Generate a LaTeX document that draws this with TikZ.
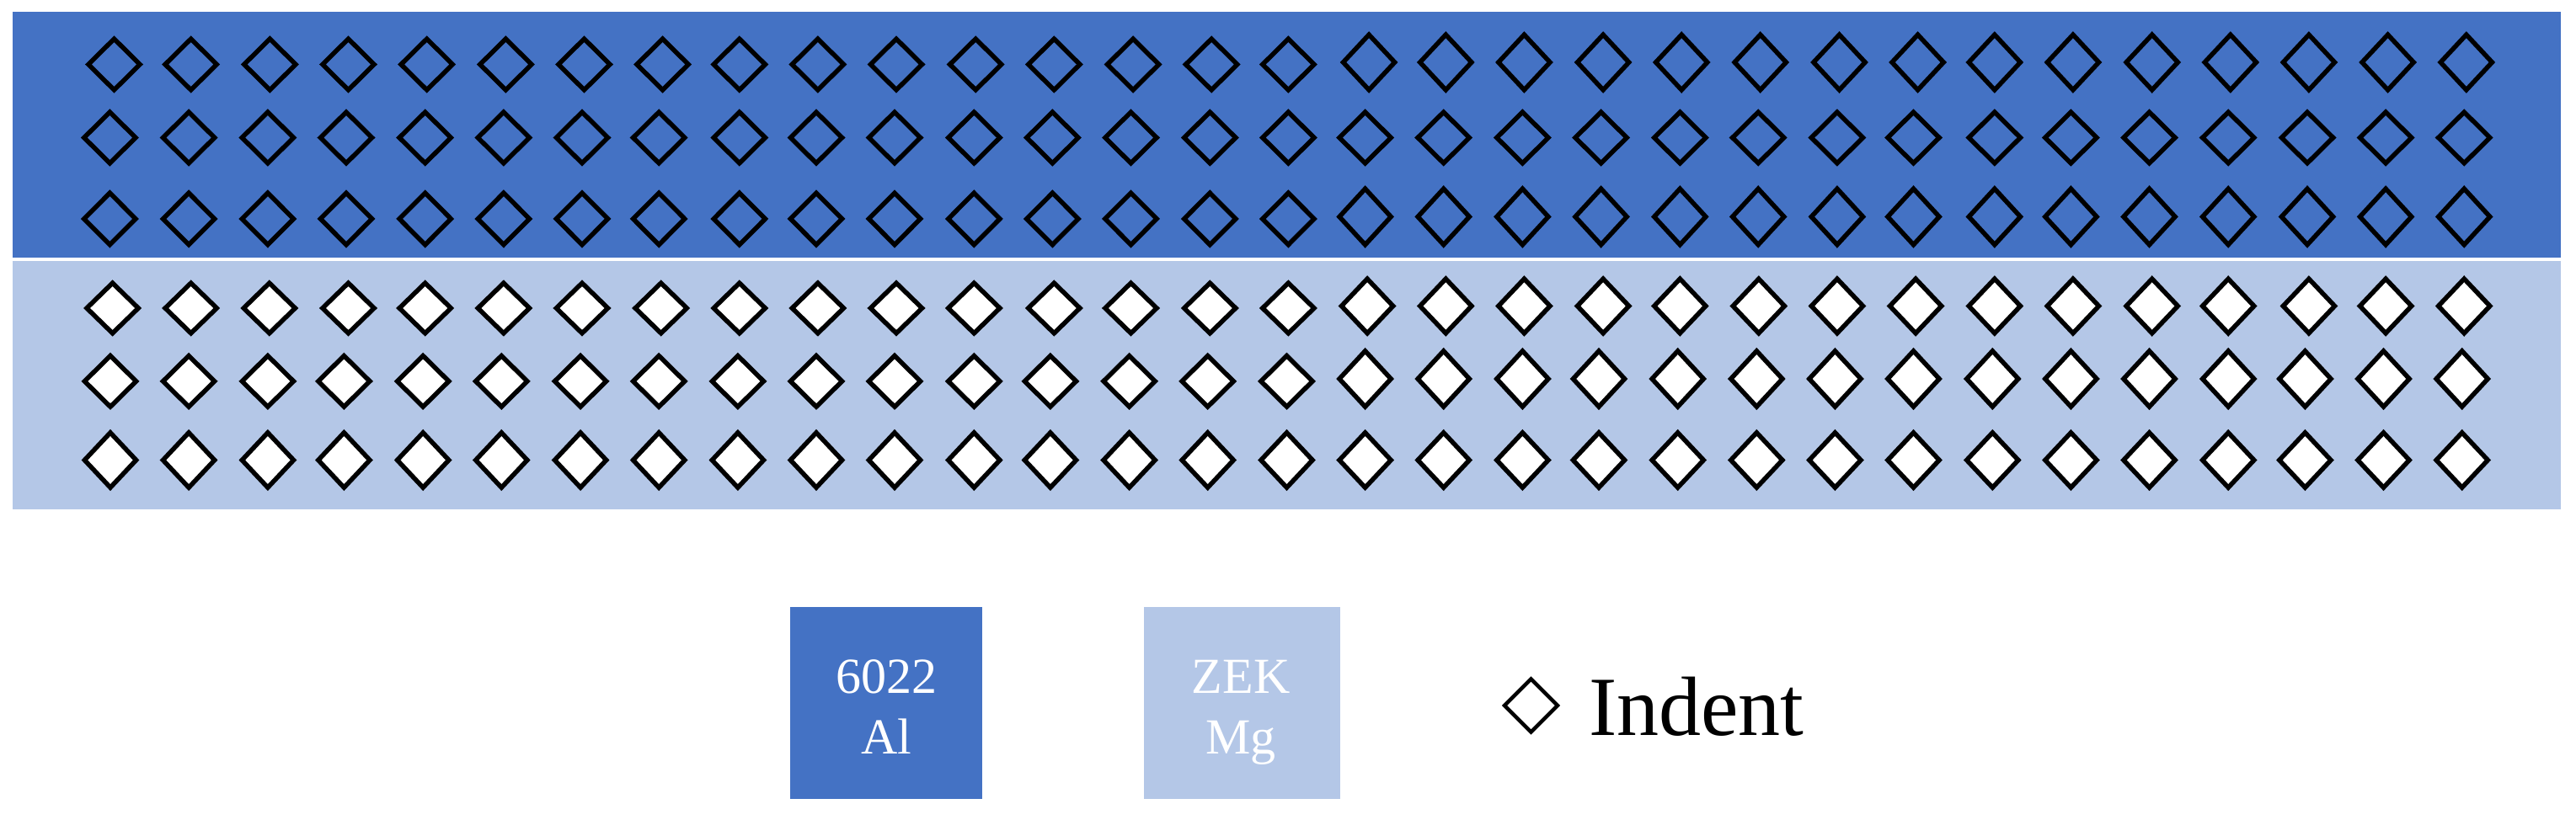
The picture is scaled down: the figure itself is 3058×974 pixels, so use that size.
\documentclass[tikz,border=0pt]{standalone}
\usepackage{fontspec}
\setmainfont{Liberation Serif}
\definecolor{albl}{HTML}{4472C4}
\definecolor{mglb}{HTML}{B4C7E7}
\newcommand\dmd[4]{%
  \pgfmathsetmacro\cyv{(#2+#3)/2}%
  \path[indent/.try, fill=#4] ({#1},{#2+3.9}) -- ({#1+30.6},\cyv) -- ({#1},{#3-3.9}) -- ({#1-30.6},\cyv) -- cycle;%
}
\begin{document}
\begin{tikzpicture}[x=1pt,y=-1pt,
  indent/.style={draw=black, line width=5.5pt, line join=miter},
  legbox/.style={rectangle, draw=none, inner sep=0pt, minimum height=228pt},
  legtxt/.style={inner sep=0pt, text=white, font=\fontsize{60}{72}\selectfont, anchor=base},
  bigtxt/.style={inner sep=0pt, text=black, font=\fontsize{100}{120}\selectfont, anchor=base west}]
\useasboundingbox (0,0) rectangle (3058,974);
% bands
\fill[albl] (15,14) rectangle (3040,306);
\fill[mglb] (15,310) rectangle (3040,605);
% row 1
\foreach \x in {135.5,226.7,320.4,413.5,506.7,600.4,693.5,786.6,877.8,970.9,1064,1158.2,1251.3,1345.1,1438.2,1529.4,1625.1,1716.3,1809.4,1903.1,1996.2,2089.7,2183.5,2276.6,2367.8,2460.9,2554.7,2647.8,2740.9,2834.6,2927.8}{
  \pgfmathsetmacro\tp{ifthenelse(\x<1610,42.3,37.3)}
  \dmd{\x}{\tp}{110.7}{none}
}
% rows 2 and 3
\foreach \x in {130.4,224.1,317.9,411.0,504.7,597.9,691.0,782.2,877.8,969.0,1062,1156.3,1249.4,1342.5,1436.3,1529.4,1620.6,1713.7,1807.4,1900.6,1994.3,2087.2,2180.9,2271.5,2367.8,2458.4,2551.5,2645.2,2739.0,2832.1,2925.2}{
  \dmd{\x}{129.3}{197.7}{none}
  \pgfmathsetmacro\tp{ifthenelse(\x<1610,225.3,220.3)}
  \dmd{\x}{\tp}{294.6}{none}
}
% row 4
\foreach \x in {133.6,226.7,319.8,413.5,504.7,597.9,691.0,784.7,877.8,970.9,1064,1156.3,1251.3,1342.5,1436.3,1529.4,1623.1,1716.3,1809.4,1903.1,1994.3,2087.8,2180.9,2274.1,2367.8,2460.9,2554.7,2645.2,2740.9,2832.1,2925.2}{
  \pgfmathsetmacro\tp{ifthenelse(\x<1610,332.3,327.3)}
  \dmd{\x}{\tp}{399.7}{white}
}
% rows 5 and 6
\foreach \x in {131.0,224.1,317.9,408.4,502.2,595.3,689.1,782.2,875.9,969.0,1062,1156.3,1246.9,1340.6,1433.7,1527.5,1620.6,1713.7,1807.4,1898.0,1991.7,2085.3,2178.4,2271.5,2365.3,2458.4,2551.5,2645.2,2736.4,2829.5,2922.7}{
  \pgfmathsetmacro\tp{ifthenelse(\x<1610,418.7,413)}
  \dmd{\x}{\tp}{487}{white}
  \dmd{\x}{510}{583}{white}
}
% legend
\node[legbox, fill=albl, minimum width=228pt] (albox) at (1052,835) {};
\node[legbox, fill=mglb, minimum width=233pt] (mgbox) at (1474.5,835) {};
\node[legtxt] (al1) at (1052,823) {6022};
\node[legtxt] (al2) at (1052,895) {Al};
\node[legtxt] (mg1) at (1473,823) {ZEK};
\node[legtxt] (mg2) at (1473,895) {Mg};
\filldraw[fill=white, draw=black, line width=4.5pt, line join=miter] (1817.5,806.5) -- (1849,838) -- (1817.5,869.5) -- (1786,838) -- cycle;
\node[bigtxt] (ind) at (1886,873) {Indent};
\end{tikzpicture}
\end{document}
